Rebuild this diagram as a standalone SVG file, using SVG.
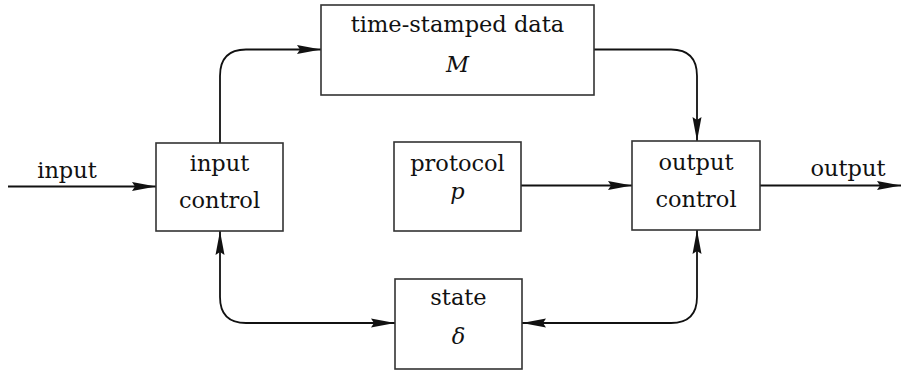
<svg xmlns="http://www.w3.org/2000/svg" width="901" height="372" viewBox="0 0 901 372">
<style>
.box{fill:#fff;stroke:#333;stroke-width:1.6}
.con{fill:none;stroke:#111;stroke-width:1.8}
.t{font-family:'DejaVu Serif',serif;font-size:22.5px;fill:#111;text-anchor:middle}
.it{font-style:italic}
</style>
<defs>
<marker id="ah" markerUnits="userSpaceOnUse" viewBox="0 0 24 10" refX="24" refY="5" markerWidth="24" markerHeight="10" orient="auto-start-reverse">
<path d="M0,0.5 L24,5 L0,9.5 L3,5 Z" fill="#111"/>
</marker>
</defs>
<rect width="901" height="372" fill="#fff"/>
<g id="connectors">
<path class="con" d="M8,186.5 L156,186.5" marker-end="url(#ah)"/>
<path class="con" d="M220,143 L220,76 Q220,49.5 246,49.5 L321,49.5" marker-end="url(#ah)"/>
<path class="con" d="M220,231 L220,297 Q220,323 246,323 L395,323" marker-start="url(#ah)" marker-end="url(#ah)"/>
<path class="con" d="M594,49.5 L671,49.5 Q697,49.5 697,76 L697,141" marker-end="url(#ah)"/>
<path class="con" d="M521,185.5 L632,185.5" marker-end="url(#ah)"/>
<path class="con" d="M697,230 L697,297 Q697,323 671,323 L522,323" marker-start="url(#ah)" marker-end="url(#ah)"/>
<path class="con" d="M760,185.5 L901,185.5" marker-end="url(#ah)"/>
</g>
<g id="label-input"><text class="t" x="67" y="178">input</text></g>
<g id="label-output"><text class="t" x="848" y="176">output</text></g>
<g id="input-control">
<rect class="box" x="156" y="143" width="127" height="88"/>
<text class="t" x="219.5" y="171">input</text>
<text class="t" x="219.5" y="208">control</text>
</g>
<g id="time-stamped-data">
<rect class="box" x="321" y="5" width="273" height="90"/>
<text class="t" x="457.5" y="32">time-stamped data</text>
<text class="t it" x="457.5" y="72">M</text>
</g>
<g id="protocol">
<rect class="box" x="394" y="142" width="127" height="89"/>
<text class="t" x="457.5" y="171">protocol</text>
<text class="t it" x="457.5" y="199">p</text>
</g>
<g id="output-control">
<rect class="box" x="632" y="141" width="128" height="89"/>
<text class="t" x="696" y="170">output</text>
<text class="t" x="696" y="207">control</text>
</g>
<g id="state">
<rect class="box" x="395" y="279" width="127" height="90"/>
<text class="t" x="458.5" y="305">state</text>
<text class="t it" x="458.5" y="344">δ</text>
</g>
</svg>
